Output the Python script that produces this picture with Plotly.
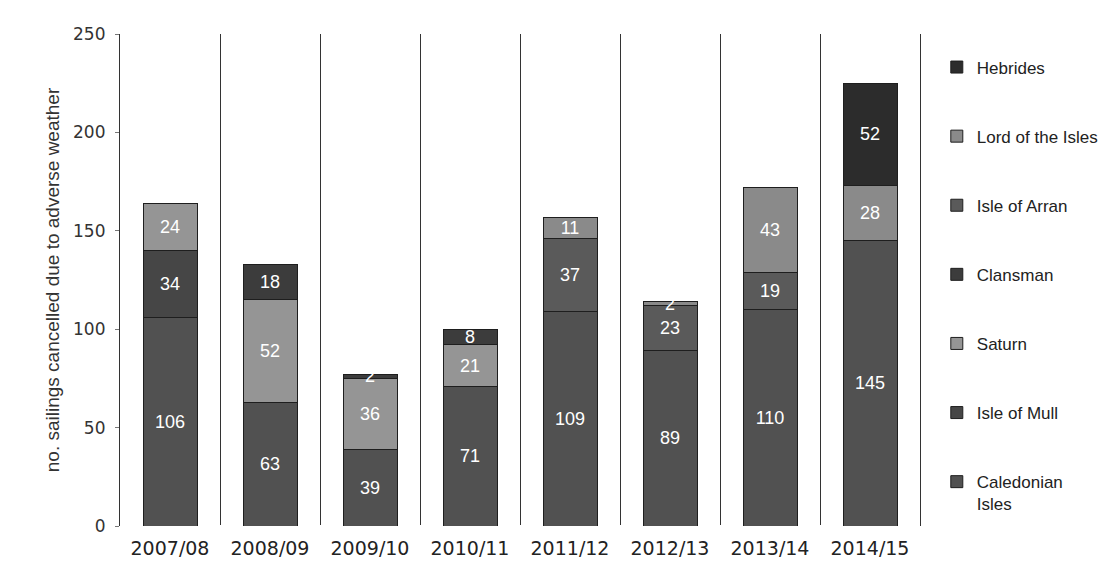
import plotly.graph_objects as go

years = ["2007/08", "2008/09", "2009/10", "2010/11", "2011/12", "2012/13", "2013/14", "2014/15"]

caledonian_isles = [106, 63, 39, 71, 109, 89, 110, 145]
isle_of_mull = [34, None, None, None, None, None, None, None]
saturn = [24, 52, 36, 21, None, None, None, None]
clansman = [None, 18, 2, 8, None, None, None, None]
isle_of_arran = [None, None, None, None, 37, 23, 19, None]
lord_of_the_isles = [None, None, None, None, 11, 2, 43, 28]
hebrides = [None, None, None, None, None, None, None, 52]

series = [
    ("Caledonian<br>Isles", caledonian_isles, "#515151"),
    ("Isle of Mull", isle_of_mull, "#464646"),
    ("Saturn", saturn, "#959595"),
    ("Clansman", clansman, "#3c3c3c"),
    ("Isle of Arran", isle_of_arran, "#5a5a5a"),
    ("Lord of the Isles", lord_of_the_isles, "#8a8a8a"),
    ("Hebrides", hebrides, "#2c2c2c"),
]

fig = go.Figure()
n = len(series)
for i, (name, vals, col) in enumerate(series):
    fig.add_trace(go.Bar(
        x=years, y=vals, name=name, legendgroup=str(i), legendrank=n - i,
        marker=dict(color=col, line=dict(color="#1e1e1e", width=1)),
        text=[str(v) if v is not None else "" for v in vals],
        textposition="inside", insidetextanchor="middle",
        textangle=0, constraintext="none",
        textfont=dict(family="Liberation Sans, Arial, sans-serif", size=18, color="white"),
        hoverinfo="skip",
    ))

fig.update_layout(
    barmode="stack",
    bargap=0.46,
    width=1111, height=578,
    paper_bgcolor="white", plot_bgcolor="white",
    margin=dict(l=112, r=199, t=26, b=60),
    font=dict(family="Liberation Sans, Arial, sans-serif", color="#222222"),
    uniformtext=dict(mode="show", minsize=18),
    showlegend=True,
    legend=dict(
        x=1.021, xanchor="left", y=0.9685, yanchor="top",
        traceorder="grouped", tracegroupgap=44, valign="top",
        font=dict(size=17, color="#222222"),
        itemwidth=30,
    ),
    xaxis=dict(
        tickson="boundaries", showgrid=True, gridcolor="#333333", gridwidth=1.2,
        ticks="", showline=False,
        ticklabelstandoff=9,
        tickfont=dict(family="DejaVu Sans, sans-serif", size=19, color="#222222"),
    ),
    yaxis=dict(
        range=[0, 250], dtick=50, showgrid=False,
        showline=True, linecolor="#333333", linewidth=1.2, mirror=True,
        ticks="outside", ticklen=4, tickcolor="#777777",
        ticklabelstandoff=6,
        tickfont=dict(family="DejaVu Sans, sans-serif", size=17, color="#333333"),
        title=dict(text="no. sailings cancelled due to adverse weather",
                   font=dict(size=19, color="#333333"), standoff=8),
    ),
)

fig.write_html("out.html")
